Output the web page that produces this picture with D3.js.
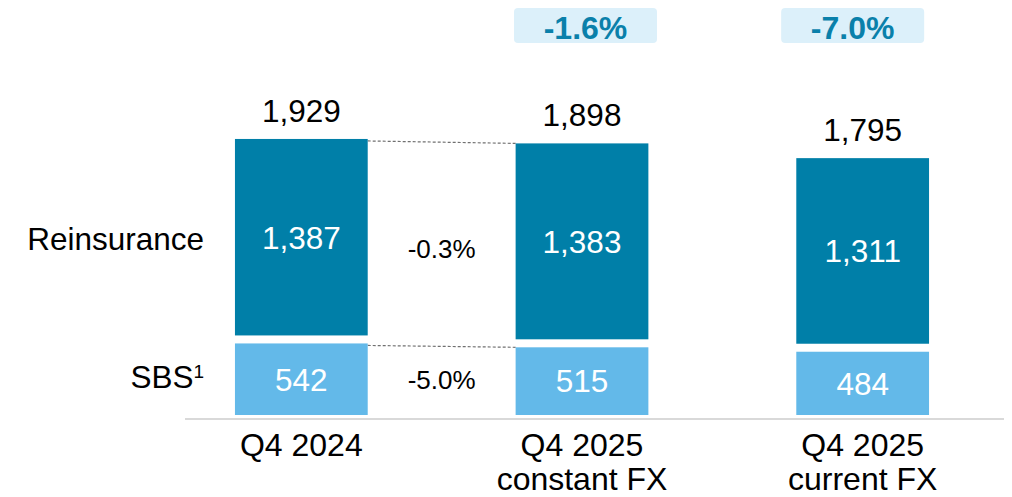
<!DOCTYPE html>
<html>
<head>
<meta charset="utf-8">
<script src="https://cdn.jsdelivr.net/npm/d3@7"></script>
<style>
  body { margin: 0; background: #fff; }
  svg text { font-family: "Liberation Sans", Arial, sans-serif; }
</style>
</head>
<body>
<div id="chart"></div>
<script>
// chart data
const categories = ["Q4 2024", "Q4 2025\nconstant FX", "Q4 2025\ncurrent FX"];
const reinsurance = [1387, 1383, 1311];
const sbs = [542, 515, 484];
const totals = [1929, 1898, 1795];
const stepChanges = ["-0.3%", "-5.0%"];          // reinsurance, SBS (Q4 2024 -> constant FX)
const badgeLabels = [null, "-1.6%", "-7.0%"];

const width = 1012, height = 497;
const darkBlue = "#007fa8", lightBlue = "#63b9e9";
const fs = 31.5;

const svg = d3.select("#chart").append("svg")
  .attr("width", width)
  .attr("height", height);

const x = d3.scaleBand()
  .domain(categories)
  .range([161, 1003])
  .paddingInner(0.527)
  .paddingOuter(0.2635);

const base = 415;
const y = d3.scaleLinear()
  .domain([0, 2000])
  .range([base, base - 2000 * 0.1431]);

const rows = categories.map((c, i) => ({
  cat: c, re: reinsurance[i], sbs: sbs[i], total: totals[i], badge: badgeLabels[i]
}));

// axis baseline
svg.append("line")
  .attr("x1", 185).attr("x2", 1004)
  .attr("y1", 419).attr("y2", 419)
  .attr("stroke", "#d9d9d9")
  .attr("stroke-width", 2);

// dashed connectors between first two bars
const b0 = rows[0], b1 = rows[1];
const connectors = [
  [y(b0.total), y(b1.total)],
  [y(b0.sbs) + 6, y(b1.sbs) + 6]
];
svg.selectAll(".connector")
  .data(connectors)
  .enter()
  .append("line")
  .attr("class", "connector")
  .attr("x1", x(b0.cat) + x.bandwidth())
  .attr("x2", x(b1.cat))
  .attr("y1", d => d[0] + 2)
  .attr("y2", d => d[1])
  .attr("stroke", "#707070")
  .attr("stroke-width", 1.2)
  .attr("stroke-dasharray", "3,2");

const bars = svg.selectAll(".bar")
  .data(rows)
  .enter()
  .append("g")
  .attr("class", "bar");

// SBS segment
bars.append("rect")
  .attr("x", d => x(d.cat))
  .attr("width", x.bandwidth())
  .attr("y", d => y(d.sbs) + 6)
  .attr("height", d => base - (y(d.sbs) + 6))
  .attr("fill", lightBlue);

// Reinsurance segment
bars.append("rect")
  .attr("x", d => x(d.cat))
  .attr("width", x.bandwidth())
  .attr("y", d => y(d.total))
  .attr("height", d => (y(d.sbs) - 2) - y(d.total))
  .attr("fill", darkBlue);

// values inside segments
bars.append("text")
  .attr("x", d => x(d.cat) + x.bandwidth() / 2)
  .attr("y", d => (y(d.total) + y(d.sbs) - 2) / 2)
  .attr("dy", "0.36em")
  .attr("text-anchor", "middle")
  .attr("fill", "#fff")
  .attr("font-size", fs)
  .text(d => d3.format(",")(d.re));

bars.append("text")
  .attr("x", d => x(d.cat) + x.bandwidth() / 2)
  .attr("y", d => (y(d.sbs) + 6 + base) / 2)
  .attr("dy", "0.36em")
  .attr("text-anchor", "middle")
  .attr("fill", "#fff")
  .attr("font-size", fs)
  .text(d => d3.format(",")(d.sbs));

// totals above bars
bars.append("text")
  .attr("x", d => x(d.cat) + x.bandwidth() / 2)
  .attr("y", d => y(d.total) - 17)
  .attr("text-anchor", "middle")
  .attr("fill", "#000")
  .attr("font-size", fs)
  .text(d => d3.format(",")(d.total));

// category labels
bars.append("text")
  .attr("text-anchor", "middle")
  .attr("fill", "#000")
  .attr("font-size", 32)
  .selectAll("tspan")
  .data(d => d.cat.split("\n").map(t => ({ t, cx: x(d.cat) + x.bandwidth() / 2 })))
  .enter()
  .append("tspan")
  .attr("x", d => d.cx)
  .attr("y", (d, i) => 456 + i * 34)
  .text(d => d.t);

// change badges
const badgeOffset = [0, 3.5, -10];
const badges = bars.filter(d => d.badge)
  .append("g")
  .attr("transform", d => {
    const idx = rows.indexOf(d);
    return `translate(${x(d.cat) + x.bandwidth() / 2 + badgeOffset[idx]},0)`;
  });

badges.append("rect")
  .attr("x", -71.5)
  .attr("y", 8)
  .attr("width", 143)
  .attr("height", 35)
  .attr("rx", 4)
  .attr("fill", "#dcf0fa");

badges.append("text")
  .attr("y", 38.5)
  .attr("text-anchor", "middle")
  .attr("font-size", 32)
  .attr("font-weight", "bold")
  .attr("fill", "#0a80aa")
  .text(d => d.badge);

// step change labels between first two bars
const midX = (x(b0.cat) + x.bandwidth() + x(b1.cat)) / 2;
const stepY = [(y(b0.total) + y(b0.sbs)) / 2 + 10, (y(b0.sbs) + 6 + base) / 2];
svg.selectAll(".step")
  .data(stepChanges)
  .enter()
  .append("text")
  .attr("class", "step")
  .attr("x", midX)
  .attr("y", (d, i) => stepY[i])
  .attr("dy", "0.36em")
  .attr("text-anchor", "middle")
  .attr("fill", "#000")
  .attr("font-size", 26)
  .text(d => d);

// row labels on the left
const leftX = 204;
svg.append("text")
  .attr("x", leftX)
  .attr("y", (y(b0.total) + y(b0.sbs)) / 2)
  .attr("dy", "0.36em")
  .attr("text-anchor", "end")
  .attr("font-size", fs)
  .attr("fill", "#000")
  .text("Reinsurance");

const sbsLabel = svg.append("text")
  .attr("x", leftX)
  .attr("y", (y(b0.sbs) + 6 + base) / 2 - 3)
  .attr("dy", "0.36em")
  .attr("text-anchor", "end")
  .attr("font-size", fs)
  .attr("fill", "#000");
sbsLabel.append("tspan").text("SBS");
sbsLabel.append("tspan")
  .attr("font-size", 19)
  .attr("dy", "-0.5em")
  .text("1");
</script>
</body>
</html>
